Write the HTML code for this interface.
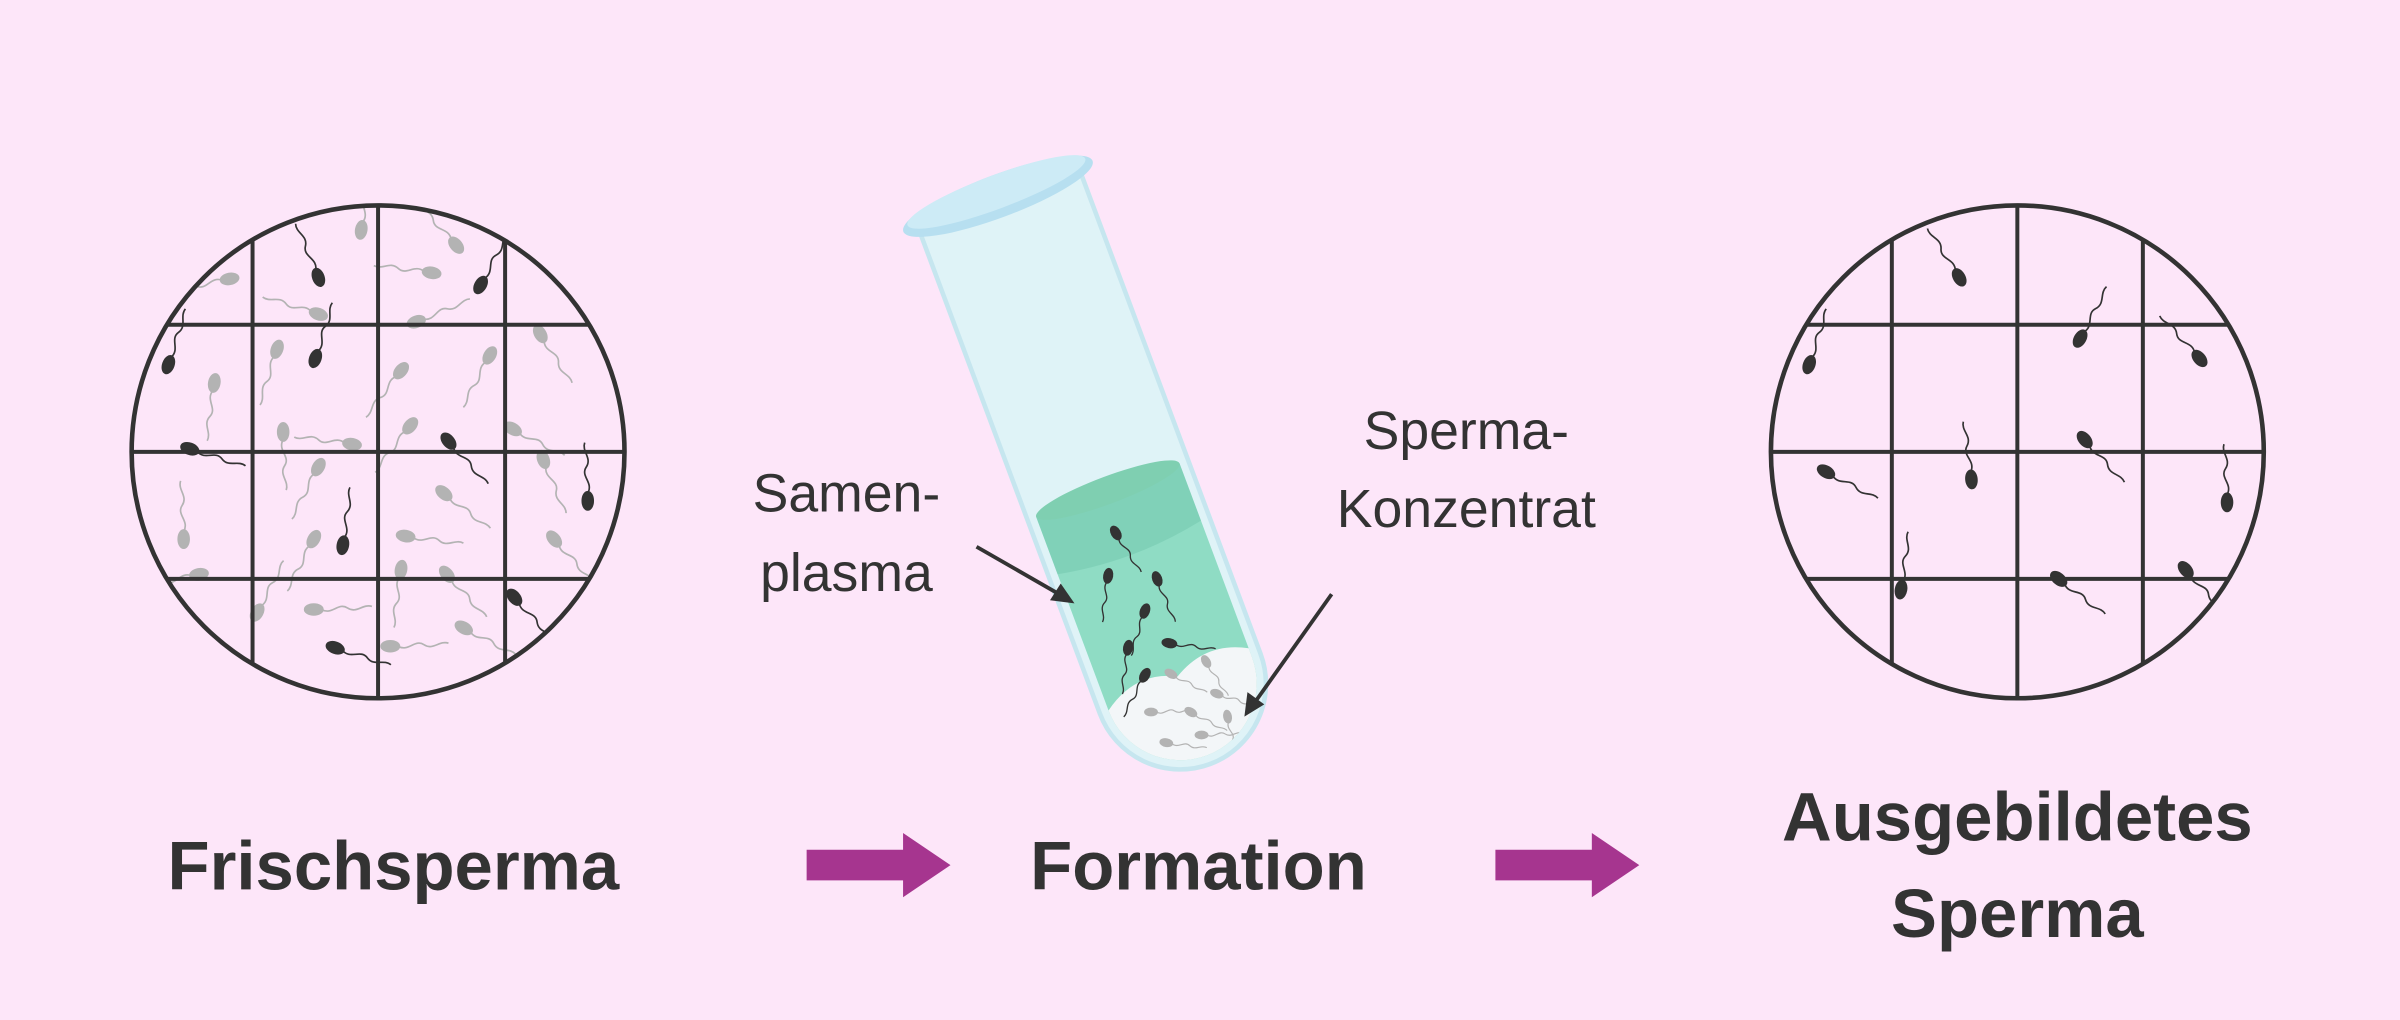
<!DOCTYPE html>
<html><head><meta charset="utf-8"><style>
html,body{margin:0;padding:0;background:#fde6f9;overflow:hidden;}
svg{display:block}
</style></head><body>
<svg width="2400" height="1020" viewBox="0 0 1568 666" xmlns="http://www.w3.org/2000/svg">
<defs>
<g id="s">
<path d="M0 5 C -4 12, 5 16, 1 22 C -3 28, 4 32, 2 38" fill="none" stroke-width="1.1"/>
<ellipse cx="0" cy="0" rx="3.6" ry="6"/>
</g>
<clipPath id="cl"><circle cx="247" cy="295" r="161"/></clipPath>
<clipPath id="cr"><circle cx="1318" cy="295" r="161"/></clipPath>
<clipPath id="ct"><path transform="translate(652,128) rotate(-20.5)" d="M-50 205 L-50 340 A50 50 0 0 0 50 340 L50 205 Z"/></clipPath>
</defs>
<rect width="1568" height="666" fill="#fde6f9"/>

<!-- left circle -->
<g clip-path="url(#cl)">
<g fill="#b3b3b3" stroke="#b3b3b3">
<use href="#s" transform="translate(150,182) rotate(80)"/>
<use href="#s" transform="translate(236,150) rotate(190)"/>
<use href="#s" transform="translate(298,160) rotate(140)"/>
<use href="#s" transform="translate(282,178) rotate(100)"/>
<use href="#s" transform="translate(181,228) rotate(20)"/>
<use href="#s" transform="translate(262,242) rotate(40)"/>
<use href="#s" transform="translate(208,205) rotate(110)"/>
<use href="#s" transform="translate(272,210) rotate(250)"/>
<use href="#s" transform="translate(353,218) rotate(-30)"/>
<use href="#s" transform="translate(320,232) rotate(30)"/>
<use href="#s" transform="translate(140,250) rotate(10)"/>
<use href="#s" transform="translate(185,282) rotate(0)"/>
<use href="#s" transform="translate(230,290) rotate(100)"/>
<use href="#s" transform="translate(268,278) rotate(40)"/>
<use href="#s" transform="translate(335,280) rotate(-60)"/>
<use href="#s" transform="translate(120,352) rotate(180)"/>
<use href="#s" transform="translate(208,305) rotate(30)"/>
<use href="#s" transform="translate(290,322) rotate(-50)"/>
<use href="#s" transform="translate(355,300) rotate(-20)"/>
<use href="#s" transform="translate(205,352) rotate(30)"/>
<use href="#s" transform="translate(265,350) rotate(-80)"/>
<use href="#s" transform="translate(362,352) rotate(-40)"/>
<use href="#s" transform="translate(130,375) rotate(80)"/>
<use href="#s" transform="translate(262,372) rotate(10)"/>
<use href="#s" transform="translate(292,375) rotate(-40)"/>
<use href="#s" transform="translate(168,400) rotate(210)"/>
<use href="#s" transform="translate(205,398) rotate(-90)"/>
<use href="#s" transform="translate(303,410) rotate(-60)"/>
<use href="#s" transform="translate(255,422) rotate(-90)"/>
</g>
<g fill="#333" stroke="#333">
<use href="#s" transform="translate(208,181) rotate(160)"/>
<use href="#s" transform="translate(314,186) rotate(210)"/>
<use href="#s" transform="translate(110,238) rotate(200)"/>
<use href="#s" transform="translate(206,234) rotate(200)"/>
<use href="#s" transform="translate(124,293) rotate(-70)"/>
<use href="#s" transform="translate(293,288) rotate(-40)"/>
<use href="#s" transform="translate(384,327) rotate(180)"/>
<use href="#s" transform="translate(224,356) rotate(190)"/>
<use href="#s" transform="translate(336,390) rotate(-40)"/>
<use href="#s" transform="translate(219,423) rotate(-70)"/>
</g>
</g>
<g stroke="#333" stroke-width="2.6" fill="none">
<g clip-path="url(#cl)">
<line x1="165" y1="100" x2="165" y2="500"/><line x1="247" y1="100" x2="247" y2="500"/><line x1="330" y1="100" x2="330" y2="500"/>
<line x1="60" y1="212" x2="440" y2="212"/><line x1="60" y1="295" x2="440" y2="295"/><line x1="60" y1="378" x2="440" y2="378"/>
</g>
<circle cx="247" cy="295" r="161" stroke-width="3"/>
</g>

<!-- right circle -->
<g clip-path="url(#cr)">
<g fill="#333" stroke="#333">
<use href="#s" transform="translate(1280,181) rotate(150)"/>
<use href="#s" transform="translate(1182,238) rotate(200)"/>
<use href="#s" transform="translate(1359,221) rotate(210)"/>
<use href="#s" transform="translate(1437,234) rotate(140)"/>
<use href="#s" transform="translate(1362,287) rotate(-40)"/>
<use href="#s" transform="translate(1193,308) rotate(-60)"/>
<use href="#s" transform="translate(1288,313) rotate(175)"/>
<use href="#s" transform="translate(1455,328) rotate(180)"/>
<use href="#s" transform="translate(1242,385) rotate(190)"/>
<use href="#s" transform="translate(1345,378) rotate(-50)"/>
<use href="#s" transform="translate(1428,372) rotate(-40)"/>
</g>
</g>
<g stroke="#333" stroke-width="2.6" fill="none">
<g clip-path="url(#cr)">
<line x1="1236" y1="100" x2="1236" y2="500"/><line x1="1318" y1="100" x2="1318" y2="500"/><line x1="1400" y1="100" x2="1400" y2="500"/>
<line x1="1130" y1="212" x2="1510" y2="212"/><line x1="1130" y1="295" x2="1510" y2="295"/><line x1="1130" y1="378" x2="1510" y2="378"/>
</g>
<circle cx="1318" cy="295" r="161" stroke-width="3"/>
</g>

<!-- tube -->
<g transform="translate(652,128) rotate(-20.5)">
<path d="M-56 0 L-56 340 A56 56 0 0 0 56 340 L56 0 Z" fill="#dff3f7" stroke="#c6e6ef" stroke-width="3"/>
<path d="M-50 205 L-50 340 A50 50 0 0 0 50 340 L50 205 Z" fill="#8fdcc4"/>
<path d="M-50 205 L50 205 L50 245 Q0 255 -50 245 Z" fill="#77c9b0" opacity="0.6"/>
<ellipse cx="0" cy="205" rx="50" ry="9" fill="#7fcfb1"/>
<path d="M-50 340 Q-25 322 0 335 Q25 320 50 334 L50 340 A50 50 0 0 1 -50 340 Z" fill="#f3f6f8"/>
<ellipse cx="0" cy="0" rx="66" ry="14" fill="#b7dff0"/>
<ellipse cx="0" cy="-3" rx="62" ry="11" fill="#cdebf6"/>
</g>
<g clip-path="url(#ct)">
<g fill="#333" stroke="#333">
<use href="#s" transform="translate(729,348) rotate(-30) scale(0.8)"/>
<use href="#s" transform="translate(724,376) rotate(10) scale(0.8)"/>
<use href="#s" transform="translate(756,378) rotate(-20) scale(0.8)"/>
<use href="#s" transform="translate(748,399) rotate(20) scale(0.8)"/>
<use href="#s" transform="translate(737,423) rotate(10) scale(0.8)"/>
<use href="#s" transform="translate(764,420) rotate(-80) scale(0.8)"/>
<use href="#s" transform="translate(748,441) rotate(30) scale(0.8)"/>
</g>
<g fill="#b3b3b3" stroke="#b3b3b3">
<use href="#s" transform="translate(765,440) rotate(-60) scale(0.7)"/>
<use href="#s" transform="translate(788,432) rotate(-30) scale(0.7)"/>
<use href="#s" transform="translate(795,453) rotate(-70) scale(0.7)"/>
<use href="#s" transform="translate(752,465) rotate(-90) scale(0.7)"/>
<use href="#s" transform="translate(778,465) rotate(-60) scale(0.7)"/>
<use href="#s" transform="translate(762,485) rotate(-80) scale(0.7)"/>
<use href="#s" transform="translate(785,480) rotate(-90) scale(0.7)"/>
<use href="#s" transform="translate(802,468) rotate(-10) scale(0.7)"/>
</g>
</g>

<!-- label arrows -->
<g stroke="#333" stroke-width="2.5" fill="#333">
<line x1="638" y1="357" x2="692" y2="388"/>
<polygon points="702,394 686,392 693,381" stroke="none"/>
<line x1="870" y1="388" x2="821" y2="457"/>
<polygon points="813,468 815,452 826,460" stroke="none"/>
</g>

<g font-family="Liberation Sans, sans-serif" fill="#333">
<text x="553" y="334" font-size="35" text-anchor="middle">Samen-</text>
<text x="553" y="386" font-size="35" text-anchor="middle">plasma</text>
<text x="958" y="293" font-size="35" text-anchor="middle">Sperma-</text>
<text x="958" y="344" font-size="35" text-anchor="middle">Konzentrat</text>
<g font-weight="bold" font-size="45" fill="#333" text-anchor="middle">
<text x="257" y="581">Frischsperma</text>
<text x="783" y="581">Formation</text>
<text x="1318" y="549">Ausgebildetes</text>
<text x="1318" y="612">Sperma</text>
</g>
</g>

<!-- arrows -->
<g fill="#a6358f">
<polygon points="527,555 590,555 590,544 621,565 590,586 590,575 527,575"/>
<polygon points="977,555 1040,555 1040,544 1071,565 1040,586 1040,575 977,575"/>
</g>
</svg>
</body></html>
